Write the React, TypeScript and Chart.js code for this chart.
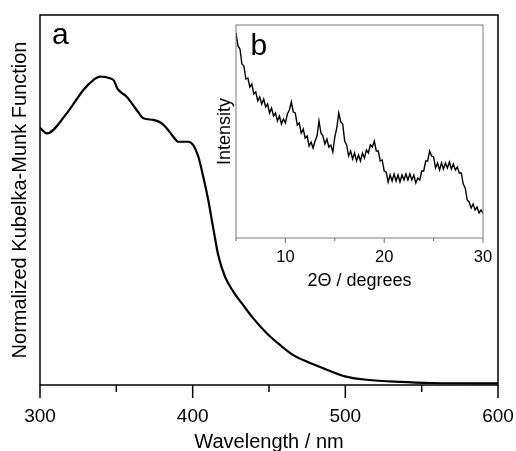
import React, { useEffect, useRef } from "react";
import { Chart, registerables } from "chart.js";

Chart.register(...registerables);

const FONT = "'Liberation Sans', Arial, Helvetica, sans-serif";

// ---- Main panel (a): diffuse reflectance, Kubelka-Munk ----
const WAVELENGTH_NM = [
  300, 304.4, 317.5, 328.4, 334.9, 339.3, 345.8, 348.6, 350.6, 356.8, 363.3, 367.7,
  374.2, 379.7, 383, 387.3, 390.6, 397.1, 400.4, 403.7, 406.9, 410.2, 413.5, 416.8,
  421.2, 426.6, 433.1, 439.7, 448.5, 457.2, 465.9, 474.7, 485.5, 499.7, 514.1, 535.8,
  557.4, 600,
];
const KM_NORMALIZED = [
  0.834, 0.816, 0.881, 0.957, 0.989, 1.0, 0.995, 0.986, 0.962, 0.935, 0.892, 0.865,
  0.86, 0.849, 0.833, 0.805, 0.789, 0.789, 0.778, 0.741, 0.676, 0.6, 0.508, 0.42,
  0.351, 0.303, 0.259, 0.216, 0.168, 0.13, 0.097, 0.076, 0.054, 0.028, 0.017, 0.01,
  0.0065, 0.005,
];
const MAIN_MAJOR_TICKS = [300, 400, 500, 600];
const MAIN_MINOR_TICKS = [350, 450, 550];

// ---- Inset panel (b): XRD pattern ----
const TWO_THETA_DEG = [
  5.0, 5.2, 5.4, 5.6, 5.8, 6.0, 6.2, 6.4, 6.6, 6.8, 7.0, 7.2, 7.4, 7.6, 7.8, 8.0,
  8.2, 8.4, 8.6, 8.8, 9.0, 9.2, 9.4, 9.6, 9.8, 10.0, 10.2, 10.4, 10.6, 10.8, 11.0,
  11.2, 11.4, 11.6, 11.8, 12.0, 12.2, 12.4, 12.6, 12.8, 13.0, 13.2, 13.4, 13.6, 13.8,
  14.0, 14.2, 14.4, 14.6, 14.8, 15.0, 15.2, 15.4, 15.6, 15.8, 16.0, 16.2, 16.4, 16.6,
  16.8, 17.0, 17.2, 17.4, 17.6, 17.8, 18.0, 18.2, 18.4, 18.6, 18.8, 19.0, 19.2, 19.4,
  19.6, 19.8, 20.0, 20.2, 20.4, 20.6, 20.8, 21.0, 21.2, 21.4, 21.6, 21.8, 22.0, 22.2,
  22.4, 22.6, 22.8, 23.0, 23.2, 23.4, 23.6, 23.8, 24.0, 24.2, 24.4, 24.6, 24.8, 25.0,
  25.2, 25.4, 25.6, 25.8, 26.0, 26.2, 26.4, 26.6, 26.8, 27.0, 27.2, 27.4, 27.6, 27.8,
  28.0, 28.2, 28.4, 28.6, 28.8, 29.0, 29.2, 29.4, 29.6, 29.8, 30.0,
];
const XRD_INTENSITY = [
  205, 192, 189, 174, 172, 159, 160, 151, 154, 144, 146, 137, 141, 134, 139, 131,
  134, 125, 130, 122, 125, 117, 122, 114, 119, 115, 124, 128, 136, 126, 125,
  113, 115, 105, 109, 100, 102, 92, 96, 90, 97, 102, 117, 105, 102,
  94, 99, 91, 93, 86, 101, 110, 125, 116, 114, 97, 93, 82, 87,
  79, 85, 77, 83, 77, 85, 80, 88, 85, 93, 91, 97, 87, 87,
  77, 78, 67, 66, 56, 63, 57, 64, 57, 63, 56, 63, 58, 64,
  58, 64, 58, 63, 55, 60, 58, 67, 67, 77, 77, 87, 82, 81,
  70, 75, 68, 75, 69, 75, 70, 76, 69, 74, 68, 71, 65, 65,
  54, 50, 38, 36, 30, 34, 28, 31, 25, 28, 25,
];
const INSET_MAJOR_TICKS = [10, 20, 30];
const INSET_MINOR_TICKS = [5, 15, 25];

type FrameOpts = {
  id: string;
  frameColor: string;
  frameWidth: number;
  tickColor: string;
  major: number[];
  minor: number[];
  majorLen: number;
  minorLen: number;
  tickWidth: number;
  fillWhite: boolean;
  letter: string;
  letterX: number;
  letterY: number;
  letterSize: number;
};

function makeFramePlugin(o: FrameOpts) {
  return {
    id: o.id,
    beforeDraw(chart: any) {
      if (!o.fillWhite) return;
      const { ctx, chartArea } = chart;
      ctx.save();
      ctx.fillStyle = "#ffffff";
      ctx.fillRect(chartArea.left, chartArea.top, chartArea.right - chartArea.left, chartArea.bottom - chartArea.top);
      ctx.restore();
    },
    afterDraw(chart: any) {
      const { ctx, chartArea } = chart;
      const { left, top, right, bottom } = chartArea;
      const xs = chart.scales.x;
      ctx.save();
      ctx.strokeStyle = o.frameColor;
      ctx.lineWidth = o.frameWidth;
      ctx.strokeRect(left, top, right - left, bottom - top);
      ctx.strokeStyle = o.tickColor;
      ctx.lineWidth = o.tickWidth;
      const drawTick = (v: number, len: number) => {
        const px = xs.getPixelForValue(v);
        ctx.beginPath();
        ctx.moveTo(px, bottom);
        ctx.lineTo(px, bottom + len);
        ctx.stroke();
      };
      o.major.forEach((v) => drawTick(v, o.majorLen));
      o.minor.forEach((v) => drawTick(v, o.minorLen));
      ctx.fillStyle = "#000000";
      ctx.font = `${o.letterSize}px ${FONT}`;
      ctx.textBaseline = "alphabetic";
      ctx.textAlign = "left";
      ctx.fillText(o.letter, o.letterX, o.letterY);
      ctx.restore();
    },
  };
}

export default function App() {
  const mainRef = useRef<HTMLCanvasElement | null>(null);
  const insetRef = useRef<HTMLCanvasElement | null>(null);

  useEffect(() => {
    if (!mainRef.current || !insetRef.current) return;

    const mainTicks = [...MAIN_MAJOR_TICKS, ...MAIN_MINOR_TICKS].sort((a, b) => a - b);
    const mainChart = new Chart(mainRef.current, {
      type: "line",
      data: {
        datasets: [
          {
            data: WAVELENGTH_NM.map((x, i) => ({ x, y: KM_NORMALIZED[i] })),
            borderColor: "#000000",
            borderWidth: 2.2,
            pointRadius: 0,
            cubicInterpolationMode: "monotone",
            fill: false,
          },
        ],
      },
      options: {
        responsive: false,
        animation: false,
        events: [],
        layout: { padding: { top: 15, right: 18, left: 0, bottom: 0 } },
        plugins: { legend: { display: false }, tooltip: { enabled: false } },
        scales: {
          x: {
            type: "linear",
            min: 300,
            max: 600,
            afterBuildTicks: (scale: any) => {
              scale.ticks = mainTicks.map((v) => ({ value: v }));
            },
            afterFit: (scale: any) => {
              scale.height = 70;
              scale.paddingLeft = 0;
              scale.paddingRight = 0;
            },
            grid: { display: false, drawTicks: false },
            border: { display: false },
            ticks: {
              autoSkip: false,
              maxRotation: 0,
              padding: 20,
              color: "#000000",
              font: { family: FONT, size: 19 },
              callback: (v: any) => (MAIN_MAJOR_TICKS.includes(Number(v)) ? String(v) : ""),
            },
            title: {
              display: true,
              text: "Wavelength / nm",
              color: "#000000",
              font: { family: FONT, size: 20 },
              padding: { top: 0, bottom: 1 },
            },
          },
          y: {
            type: "linear",
            min: 0,
            max: 1.2,
            afterFit: (scale: any) => {
              scale.width = 40;
              scale.paddingTop = 0;
              scale.paddingBottom = 0;
            },
            grid: { display: false, drawTicks: false },
            border: { display: false },
            ticks: { display: false },
            title: {
              display: true,
              text: "Normalized Kubelka-Munk Function",
              color: "#000000",
              font: { family: FONT, size: 20 },
              padding: { top: 8, bottom: 0 },
            },
          },
        },
      },
      plugins: [
        makeFramePlugin({
          id: "mainFrame",
          frameColor: "#000000",
          frameWidth: 1.5,
          tickColor: "#000000",
          major: MAIN_MAJOR_TICKS,
          minor: MAIN_MINOR_TICKS,
          majorLen: 13,
          minorLen: 7,
          tickWidth: 1.5,
          fillWhite: false,
          letter: "a",
          letterX: 52,
          letterY: 43.5,
          letterSize: 30,
        }),
      ],
    } as any);

    const insetTicks = [...INSET_MAJOR_TICKS, ...INSET_MINOR_TICKS].sort((a, b) => a - b);
    const insetChart = new Chart(insetRef.current, {
      type: "line",
      data: {
        datasets: [
          {
            data: TWO_THETA_DEG.map((x, i) => ({ x, y: XRD_INTENSITY[i] })),
            borderColor: "#000000",
            borderWidth: 1.4,
            pointRadius: 0,
            tension: 0,
            fill: false,
          },
        ],
      },
      options: {
        responsive: false,
        animation: false,
        events: [],
        layout: { padding: { top: 5, right: 17, left: 0, bottom: 0 } },
        plugins: { legend: { display: false }, tooltip: { enabled: false } },
        scales: {
          x: {
            type: "linear",
            min: 5,
            max: 30,
            afterBuildTicks: (scale: any) => {
              scale.ticks = insetTicks.map((v) => ({ value: v }));
            },
            afterFit: (scale: any) => {
              scale.height = 62;
              scale.paddingLeft = 0;
              scale.paddingRight = 0;
            },
            grid: { display: false, drawTicks: false },
            border: { display: false },
            ticks: {
              autoSkip: false,
              maxRotation: 0,
              padding: 9.7,
              color: "#000000",
              font: { family: FONT, size: 16.5 },
              callback: (v: any) => (INSET_MAJOR_TICKS.includes(Number(v)) ? String(v) : ""),
            },
            title: {
              display: true,
              text: "2\u0398 / degrees",
              color: "#000000",
              font: { family: FONT, size: 18 },
              padding: { top: 0, bottom: 8 },
            },
          },
          y: {
            type: "linear",
            min: 0,
            max: 213,
            afterFit: (scale: any) => {
              scale.width = 36;
              scale.paddingTop = 0;
              scale.paddingBottom = 0;
            },
            grid: { display: false, drawTicks: false },
            border: { display: false },
            ticks: { display: false },
            title: {
              display: true,
              text: "Intensity",
              color: "#000000",
              font: { family: FONT, size: 18 },
              padding: { top: 14, bottom: 0 },
            },
          },
        },
      },
      plugins: [
        makeFramePlugin({
          id: "insetFrame",
          frameColor: "#7a7a7a",
          frameWidth: 1,
          tickColor: "#6a6a6a",
          major: INSET_MAJOR_TICKS,
          minor: INSET_MINOR_TICKS,
          majorLen: 5,
          minorLen: 3,
          tickWidth: 1,
          fillWhite: true,
          letter: "b",
          letterX: 50.5,
          letterY: 34.5,
          letterSize: 30,
        }),
      ],
    } as any);

    return () => {
      mainChart.destroy();
      insetChart.destroy();
    };
  }, []);

  return (
    <div
      style={{
        position: "absolute",
        left: 0,
        top: 0,
        width: 516,
        height: 451,
        overflow: "hidden",
        background: "#ffffff",
      }}
    >
      <canvas
        ref={mainRef}
        width={516}
        height={455}
        style={{ position: "absolute", left: 0, top: 0, width: 516, height: 455 }}
      />
      <canvas
        ref={insetRef}
        width={300}
        height={280}
        style={{ position: "absolute", left: 200, top: 20, width: 300, height: 280 }}
      />
    </div>
  );
}
